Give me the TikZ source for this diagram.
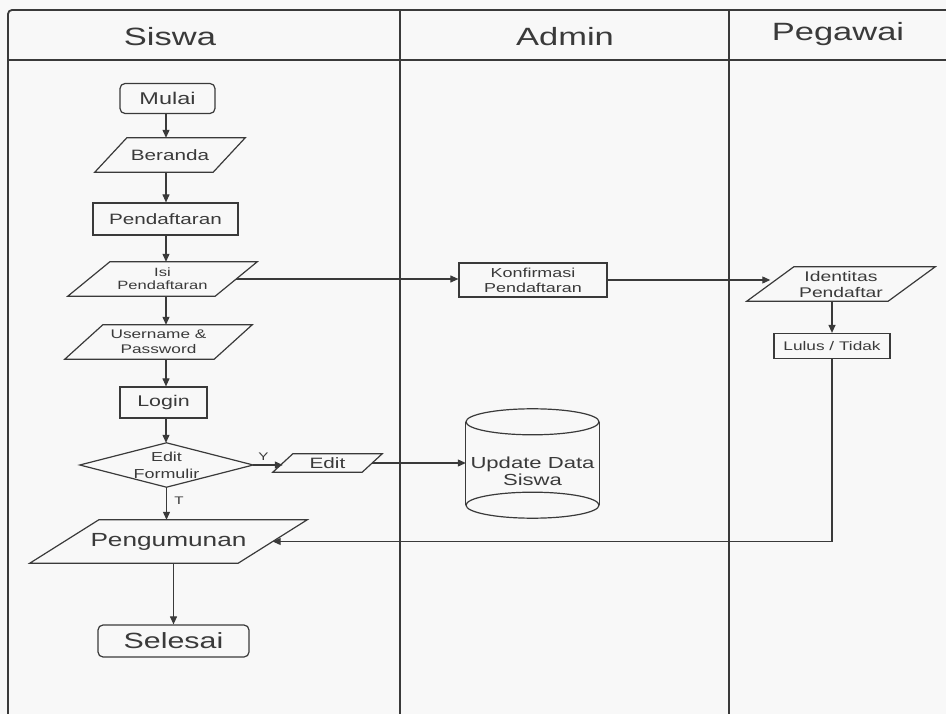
\documentclass[tikz,border=0pt]{standalone}
\usepackage{fontspec}
\newfontfamily\lf[FakeStretch=1.38]{Liberation Sans}
\usetikzlibrary{arrows.meta,calc}
\definecolor{ink}{HTML}{3A3A3A}
\definecolor{bg}{HTML}{F8F8F8}
\newcommand\fz[2]{\lf\fontsize{#1}{#2}\selectfont}
\newcommand\para[2]{%
  \draw[shapeline] (#1.south west) -- ([xshift=#2pt]#1.north west) -- (#1.north east) -- ([xshift=-#2pt]#1.south east) -- cycle;
  \coordinate (#1R) at ($(#1.north east)!0.5!([xshift=-#2pt]#1.south east)$);
  \coordinate (#1L) at ($(#1.south west)!0.5!([xshift=#2pt]#1.north west)$);}
\begin{document}
\begin{tikzpicture}[x=1pt,y=-1pt,
  shapeline/.style={draw=ink,line width=1.2pt},
  frameline/.style={draw=ink,line width=1.8pt},
  arr/.style={draw=ink,line width=1.1pt,-{Triangle[length=8pt,width=7pt]}},
  plain/.style={rectangle,inner sep=0pt,text=ink,align=center},
  box/.style={plain,draw=ink,line width=1.2pt},
  rbox/.style={box,rounded corners=5pt},
  title/.style={plain,font=\fz{25}{28}}]
\fill[bg] (0,0) rectangle (946,714);
\useasboundingbox (0,0) rectangle (946,714);
% frame
\draw[frameline,rounded corners=4pt] (946,10) -- (8,10) -- (8,714);
\draw[frameline] (8,60) -- (946,60);
\draw[frameline] (400,10) -- (400,714);
\draw[frameline] (729,10) -- (729,714);
\node[title] (t1) at (170,37) {Siswa};
\node[title] (t2) at (565,37) {Admin};
\node[title] (t3) at (838,34) {Pegawai};
\coordinate (col) at (166,0);
% Siswa lane
\node[rbox,minimum width=95pt,minimum height=30pt,font=\fz{17}{19}] (mulai) at (167.5,98.5) {Mulai};
\node[plain,minimum width=150pt,minimum height=34pt,font=\fz{15}{17}] (beranda) at (170,155) {Beranda};
\para{beranda}{32}
\node[box,minimum width=145pt,minimum height=32pt,font=\fz{15}{17}] (pend) at (165.5,219) {Pendaftaran};
\node[plain,minimum width=189pt,minimum height=34pt,font=\fz{12}{13}] (isi) at (162.5,279) {Isi\\Pendaftaran};
\para{isi}{42}
\node[plain,minimum width=187pt,minimum height=34pt,font=\fz{12.5}{15}] (user) at (158.5,342) {Username \&\\Password};
\para{user}{38}
\node[box,minimum width=87pt,minimum height=31pt,font=\fz{15.5}{17}] (login) at (163.5,402.5) {Login};
\node[plain,minimum width=173pt,minimum height=44pt,font=\fz{13}{17}] (dec) at (166.5,465) {Edit\\Formulir};
\draw[shapeline] (dec.north) -- (dec.east) -- (dec.south) -- (dec.west) -- cycle;
\node[plain,minimum width=109pt,minimum height=18pt,font=\fz{15}{17}] (edit) at (327.5,463) {Edit};
\para{edit}{20}
\node[plain,minimum width=277pt,minimum height=43pt,font=\fz{19}{21}] (peng) at (168.5,541.5) {Pengumunan};
\para{peng}{69}
\node[rbox,minimum width=151pt,minimum height=32pt,font=\fz{22}{24}] (selesai) at (173.5,641) {Selesai};
% Admin lane
\node[box,minimum width=148pt,minimum height=34pt,font=\fz{13}{15}] (konf) at (533,280) {Konfirmasi\\Pendaftaran};
\node[plain,minimum width=133pt,minimum height=109pt] (db) at (532.5,463.5) {};
\draw[shapeline] ([yshift=-13pt]db.north) ellipse [x radius=66.5, y radius=13];
\draw[shapeline] ([yshift=13pt]db.south) ellipse [x radius=66.5, y radius=13];
\draw[shapeline] ([yshift=-13pt]db.north west) -- ([yshift=13pt]db.south west);
\draw[shapeline] ([yshift=-13pt]db.north east) -- ([yshift=13pt]db.south east);
\node[plain,font=\fz{16}{17}] (dbtxt) at ($(db.center)+(0,8)$) {Update Data\\Siswa};
% Pegawai lane
\node[plain,minimum width=188pt,minimum height=34pt,font=\fz{14}{16}] (ident) at (841,284) {Identitas\\Pendaftar};
\para{ident}{47}
\node[box,minimum width=116pt,minimum height=25pt,font=\fz{12.5}{14}] (lulus) at (832,346) {Lulus / Tidak};
% connectors
\draw[arr] (col |- mulai.south) -- (col |- beranda.north);
\draw[arr] (col |- beranda.south) -- (col |- pend.north);
\draw[arr] (col |- pend.south) -- (col |- isi.north);
\draw[arr] (col |- isi.south) -- (col |- user.north);
\draw[arr] (col |- user.south) -- (col |- login.north);
\draw[arr] (col |- login.south) -- (col |- dec.north);
\draw[arr] (dec.east) -- (dec.east -| editL) node[pos=0.35,above=1pt,text=ink,font=\fz{11}{12}] (ylab) {Y};
\draw[arr] (dec.south) -- (dec.south |- peng.north) node[pos=0.4,right=4pt,text=ink,font=\fz{11}{12}] (tlab) {T};
\draw[arr] (selesai.north |- peng.south) -- (selesai.north);
\draw[arr] (isiR) -- (isiR -| konf.west);
\draw[arr] (konf.east) -- (konf.east -| identL);
\draw[arr] (lulus.north |- ident.south) -- (lulus.north);
\draw[arr] (lulus.south) -- (lulus.south |- pengR) -- (pengR);
\draw[arr] (editR) -- (editR -| db.west);
\end{tikzpicture}
\end{document}
